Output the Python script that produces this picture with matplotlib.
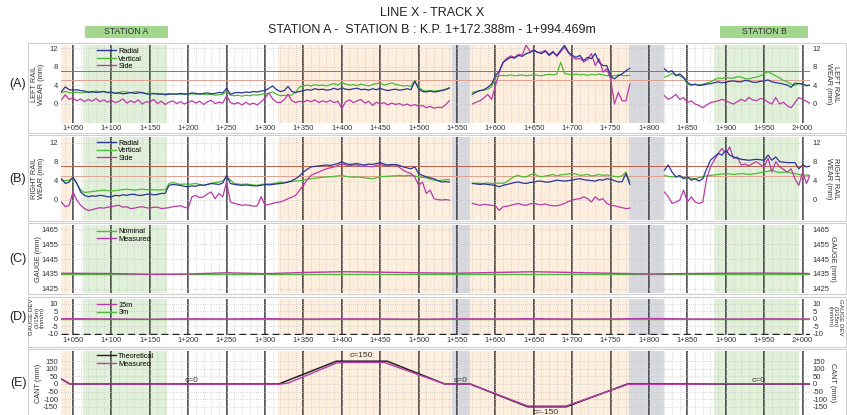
import numpy as np
import matplotlib
matplotlib.use("Agg")
import matplotlib.pyplot as plt
from matplotlib.patches import Rectangle

plt.rcParams['font.family'] = ['Liberation Sans', 'DejaVu Sans']

# ---------------- DATA ----------------
seg1 = np.arange(1035, 1541, 5)
seg2 = np.arange(1570, 1776, 5)
seg3 = np.arange(1820, 2011, 5)

# Panel A - left rail wear
a_radial_1 = [2.6,3.6,3.0,2.9,3.0,2.8,2.7,2.4,2.6,2.4,2.5,2.6,2.4,2.5,2.2,2.3,2.1,2.2,2.4,2.2,
              2.3,2.4,2.1,2.0,2.2,2.0,2.1,1.9,2.0,2.1,2.0,2.2,2.0,2.1,2.3,2.2,2.0,2.2,2.3,2.1,
              2.2,2.4,2.3,3.3,2.0,2.3,2.4,2.3,2.5,2.4,2.6,2.5,2.7,2.8,3.3,3.8,3.0,2.6,2.8,3.7,
              2.6,2.4,2.6,2.8,3.0,2.9,3.2,3.0,3.1,2.9,3.0,3.3,3.0,3.4,3.1,3.0,3.2,3.3,3.0,3.1,
              2.9,3.2,3.0,3.3,3.0,2.8,3.0,3.1,2.9,3.0,3.2,3.0,4.8,3.2,2.6,2.5,2.7,2.5,2.6,2.8,
              3.0,3.4]
a_vertical_1 = [2.4,2.6,2.4,2.3,2.5,2.3,2.4,2.6,2.4,2.7,2.5,2.6,2.3,2.4,2.2,2.4,2.6,2.5,2.3,2.5,
                2.6,2.3,2.2,2.3,2.1,2.2,2.0,2.1,2.2,2.0,2.1,2.0,2.2,2.0,2.1,2.0,2.2,2.0,1.9,2.0,
                1.8,1.9,2.0,2.6,1.8,1.7,1.8,1.6,1.8,1.7,1.9,1.8,2.0,2.1,2.2,2.5,2.0,1.7,1.8,1.7,
                1.9,2.4,3.6,3.8,4.0,3.8,4.1,3.9,4.0,3.8,4.1,4.3,4.0,4.6,4.2,4.0,4.1,3.9,4.2,4.0,
                3.8,4.1,4.3,4.4,4.0,4.2,4.5,4.1,4.0,3.8,3.9,3.7,5.0,3.5,2.9,2.7,2.8,2.7,2.8,2.9,
                3.1,3.3]
a_side_1 = [0.8,1.9,0.9,1.2,0.6,1.0,0.4,0.9,0.5,1.1,0.4,0.8,0.3,0.7,0.2,0.5,1.0,0.1,0.6,0.2,
            0.8,-0.1,0.4,0.3,0.9,0.0,0.5,-0.2,0.3,0.6,0.0,0.4,-0.1,0.3,0.6,0.1,0.5,-0.2,0.4,0.7,
            0.0,0.3,0.1,1.7,0.2,-0.1,0.2,-0.3,0.3,-0.2,0.1,-0.3,0.4,1.2,2.3,1.0,0.3,0.2,0.8,2.0,
            0.6,0.2,0.5,0.3,0.7,0.4,0.8,0.2,0.6,0.3,0.7,0.2,0.5,-1.1,0.4,0.8,0.2,0.6,0.9,0.1,
            0.5,-0.4,0.3,-0.1,0.2,-0.3,0.1,-0.2,0.0,-0.4,-0.1,-0.5,-0.2,-0.6,-0.4,-0.9,-0.6,-1.0,-0.8,-0.9,
            -0.3,0.6]
a_radial_2 = [2.0,2.5,2.8,3.0,3.5,4.2,6.0,7.0,8.9,9.5,10.0,9.8,10.4,10.2,10.8,11.0,11.5,11.1,10.8,11.3,
              10.4,11.1,10.4,11.5,12.6,11.1,10.4,10.0,10.4,9.3,10.0,9.7,10.8,8.9,8.2,8.2,6.0,5.3,6.0,6.4,
              7.1,7.6]
a_vertical_2 = [2.4,2.6,2.8,2.9,3.1,3.6,5.7,6.0,6.1,6.0,6.2,6.0,6.1,6.2,6.0,6.1,6.2,6.1,6.0,6.2,
                6.3,6.2,6.4,8.9,6.5,6.3,6.2,6.4,6.2,6.3,6.1,6.3,6.2,6.4,6.2,6.0,6.1,6.0,6.2,6.1,
                6.0,6.1]
a_side_2 = [-0.1,0.3,0.6,1.2,2.0,0.9,3.8,6.8,8.9,9.8,10.3,10.0,10.6,10.5,12.7,11.2,11.6,11.0,11.1,11.5,
            10.6,11.3,10.2,11.2,12.2,11.0,10.0,9.6,9.8,9.0,9.5,10.8,8.2,9.7,6.8,7.5,5.3,-0.1,2.4,0.6,
            0.6,4.2]
a_radial_3 = [7.5,6.8,7.1,6.0,6.4,5.7,4.6,4.0,4.2,3.9,4.0,4.2,4.3,4.5,4.7,4.5,4.6,4.8,4.9,4.7,
              4.7,5.0,4.9,4.6,4.6,4.8,4.9,5.1,4.7,4.5,4.4,4.2,4.0,3.5,4.4,4.3,4.2,3.9,4.0]
a_vertical_3 = [5.7,6.0,6.5,6.2,6.0,5.5,4.2,4.0,4.1,4.0,4.2,4.4,4.7,5.1,5.5,5.4,5.7,5.5,5.5,5.8,
                5.7,5.4,5.3,5.6,5.7,6.0,6.4,6.9,6.4,6.0,5.5,5.0,4.7,4.2,3.9,4.4,4.2,3.8,4.0]
a_side_3 = [1.7,0.9,1.3,2.0,0.9,1.3,0.2,0.6,-0.1,-0.4,-0.9,-0.3,0.2,0.4,0.6,0.9,0.6,0.2,-0.1,0.4,
            0.9,0.5,1.3,0.8,0.6,1.1,0.9,0.3,-0.1,1.3,-0.1,0.3,-0.5,-0.9,0.2,1.3,0.9,0.5,0.0]

# Panel B - right rail wear
b_radial_1 = [4.4,3.4,3.7,4.8,3.4,1.6,0.9,0.6,0.8,0.7,0.9,0.8,0.6,0.6,0.9,0.8,1.0,0.9,1.1,1.1,
              0.9,0.9,1.1,1.2,1.0,1.1,1.3,1.3,3.0,3.2,3.1,3.0,2.8,2.7,2.9,2.8,3.1,3.0,3.2,3.4,
              3.3,3.2,3.5,5.1,3.4,3.2,3.1,3.0,3.1,3.0,2.9,2.9,3.0,3.2,3.1,3.2,3.3,3.4,3.5,3.7,
              4.0,4.4,5.0,5.8,6.4,6.9,7.0,7.1,7.2,7.3,7.2,7.4,7.6,8.0,7.6,7.4,7.5,7.6,7.4,7.3,
              7.5,7.4,7.6,7.8,7.5,7.3,7.4,7.4,7.2,6.9,6.7,6.5,6.9,5.5,5.1,4.8,4.6,4.4,4.0,3.7,
              3.8,3.7]
b_vertical_1 = [4.1,4.0,4.1,4.6,3.4,2.0,1.5,1.6,1.7,1.8,1.9,2.0,1.9,1.8,1.9,2.0,2.1,2.2,2.1,2.0,
                2.1,2.2,2.1,2.0,2.1,2.0,2.1,2.0,3.4,3.6,3.4,3.2,3.3,3.2,3.3,3.4,3.2,3.0,3.2,3.4,
                3.6,3.7,3.9,4.8,4.1,3.4,3.3,3.2,3.3,3.2,3.1,3.0,3.2,3.3,3.3,3.4,3.5,3.7,3.6,3.7,
                3.8,3.9,4.0,4.1,4.3,4.4,4.5,4.6,4.7,4.8,4.8,4.9,5.0,5.1,4.9,4.8,4.7,4.8,4.7,4.6,
                4.5,4.4,4.6,4.8,4.9,4.9,5.0,5.0,5.1,5.0,5.1,5.1,5.0,4.8,4.7,4.6,4.3,4.1,4.0,4.1,
                4.2,4.2]
b_side_1 = [-0.5,-1.5,-1.2,1.6,-0.1,-1.2,-1.9,-2.3,-2.1,-1.9,-1.7,-1.8,-1.6,-1.5,-1.3,-1.2,-1.6,-1.5,-1.9,-1.8,
            -1.6,-1.5,-1.7,-1.8,-1.6,-1.6,-1.9,-1.8,-1.7,-1.5,-1.4,-1.3,-1.6,-1.8,0.6,0.9,0.4,0.6,1.2,1.6,
            0.2,1.3,0.6,3.7,-0.5,-0.8,-1.0,-1.2,-1.1,-1.2,-1.4,-1.3,0.6,-1.2,-1.0,-0.8,-0.6,-0.5,-0.2,0.2,
            0.5,0.9,2.0,3.0,4.2,5.1,5.5,5.8,6.2,6.5,6.7,6.9,7.2,7.6,7.3,7.1,7.3,7.3,7.0,7.1,
            7.0,6.9,7.2,7.4,7.2,7.1,7.3,7.3,6.8,6.2,5.8,5.5,4.8,3.0,3.7,1.3,2.0,0.2,0.0,-0.1,
            0.0,-0.1]
b_radial_2 = [3.4,3.3,3.2,3.3,3.2,3.1,3.0,2.7,3.0,3.2,3.4,3.6,3.7,3.5,3.4,3.6,3.7,3.9,3.9,3.7,
              3.7,3.9,4.1,4.0,3.9,4.0,4.1,4.3,4.4,4.2,4.1,4.0,3.9,4.2,4.1,4.4,4.3,4.0,3.7,3.8,
              5.5,3.2]
b_vertical_2 = [3.4,3.5,3.4,3.4,3.5,3.4,3.4,3.5,3.4,3.8,4.4,4.9,5.1,4.8,4.8,5.2,5.5,5.0,4.8,5.0,
                5.1,5.3,5.0,5.2,5.3,5.4,5.5,5.4,5.1,5.2,5.3,5.0,5.1,5.3,5.1,5.2,5.0,4.9,4.8,5.0,
                5.8,3.7]
b_side_2 = [-0.8,-1.0,-1.2,-1.0,-1.1,-1.2,-1.3,-2.3,-1.5,-1.4,-1.2,-1.0,-0.8,-1.1,-1.2,-0.9,-0.8,-1.0,-1.1,-0.9,
            -1.2,-1.3,-1.3,-1.1,-0.8,-0.4,-0.1,0.1,0.2,0.6,0.2,-0.5,0.6,-0.1,0.2,-0.8,-1.2,-1.3,-1.5,-1.7,
            -1.9,-1.8]
b_radial_3 = [6.2,7.3,5.8,4.8,5.1,4.4,4.8,4.1,4.4,3.9,4.4,6.5,8.3,9.0,9.7,9.4,10.4,9.4,9.0,8.7,
              8.5,8.4,8.3,8.4,8.5,8.4,8.3,9.4,8.3,9.0,8.0,7.9,7.8,7.8,7.8,6.5,7.3,6.9,7.1]
b_vertical_3 = [5.1,4.9,4.8,4.8,4.8,4.7,4.6,4.5,4.4,4.6,4.8,5.0,5.1,5.2,5.3,5.4,5.5,5.4,5.3,5.4,
                5.5,5.4,5.3,5.4,5.5,5.7,5.8,6.0,6.2,5.9,5.7,5.8,5.8,5.6,5.5,5.3,5.1,5.2,5.0]
b_side_3 = [1.6,0.6,-0.8,-0.5,-0.1,2.0,-0.5,0.6,-0.5,-0.8,-0.5,4.4,6.9,8.3,9.7,10.8,9.7,11.1,8.7,9.0,
            7.3,7.5,7.1,7.6,8.0,7.4,6.9,8.7,5.8,8.0,6.9,6.4,5.8,6.5,4.4,3.0,5.8,3.4,5.3]

# Panel C - gauge
gauge_ch = [1034, 1100, 1150, 1200, 1250, 1300, 1350, 1400, 1450, 1500, 1550, 1600, 1650,
            1700, 1750, 1800, 1850, 1900, 1950, 2000, 2010]
gauge_meas = [1435.5, 1435.3, 1434.8, 1435.0, 1435.8, 1435.2, 1436.0, 1436.5, 1436.2, 1435.8,
              1435.5, 1436.0, 1436.5, 1436.0, 1435.5, 1435.0, 1435.3, 1435.5, 1435.6, 1435.4, 1435.3]
gauge_nominal = 1435

# Panel D - gauge deviation
dev_15m = [0.2, 0.0, -0.2, 0.1, 0.0, 0.2, -0.1, 0.1, 0.0, -0.2, 0.1, 0.0, 0.2, -0.1, 0.0, 0.3,
           0.0, -0.1, 0.1, 0.0, 0.0]
dev_3m = [0.0] * len(gauge_ch)

# Panel E - cant
cant_theo_ch = [1034, 1046, 1318, 1393, 1459, 1534, 1567, 1642, 1692, 1772, 2010]
cant_theo = [35, 0, 0, 150, 150, 0, 0, -150, -150, 0, 0]
cant_meas_ch = [1034, 1046, 1318, 1330, 1393, 1402, 1455, 1534, 1567, 1642, 1692, 1772, 1850, 1900, 2010]
cant_meas = [33, 0, -2, 6, 138, 142, 142, 0, 0, -145, -145, -3, -2, 2, 0]
cant_labels = [(1205, 25, "c=0"), (1426, 190, "c=150"), (1554, 25, "c=0"),
               (1665, -188, "c=-150"), (1942, 25, "c=0")]

# Backgrounds
orange_bands = [(1034, 1048), (1317, 1543), (1567, 1774)]
green_bands = [(1063, 1172), (1885, 1995)]
gray_bands = [(1543, 1567), (1774, 1820)]
major_ticks = list(range(1050, 2001, 50))
tick_labels = ["%d+%03d" % (c // 1000, c % 1000) for c in major_ticks]

C_BLUE = '#2a3596'
C_GREEN = '#4cbb35'
C_MAG = '#b93aa8'
C_RED = '#c0604a'

# ---------------- FIGURE ----------------
W, H = 847, 415
fig = plt.figure(figsize=(W / 100, H / 100), dpi=100)
fig.patch.set_facecolor('white')

XL, XR = 61, 810
X0, X1 = 1034.4, 2009.6


def fx(px):
    return px / W


def fy(py):
    return 1 - py / H


def add_box(top, bottom):
    fig.patches.append(Rectangle((fx(28), fy(bottom)), fx(846) - fx(28), fy(top) - fy(bottom),
                                 transform=fig.transFigure, facecolor='none',
                                 edgecolor='#cfcfcf', lw=0.8, zorder=-5))


def make_ax(top, bottom, ylim, yticks, label, ylab, show_x, ylab_fs=5.3, ylx=(38, 832)):
    ax = fig.add_axes([fx(XL), fy(bottom), fx(XR) - fx(XL), fy(top) - fy(bottom)])
    ax.set_facecolor('none')
    ax.set_xlim(X0, X1)
    ax.set_ylim(*ylim)
    for a, b in orange_bands:
        ax.axvspan(a, b, color='#fdeedd', lw=0, zorder=0)
    for a, b in green_bands:
        ax.axvspan(a, b, color='#e1f0d8', lw=0, zorder=0)
    for a, b in gray_bands:
        ax.axvspan(a, b, color='#d8d9de', lw=0, zorder=0.5)
    ax.set_xticks(major_ticks)
    ax.set_xticks(np.arange(1040, 2010, 10), minor=True)
    ax.set_yticks(yticks)
    ax.grid(which='both', axis='x', color='#c8c8c8', ls=':', lw=0.6, zorder=0.6)
    ax.grid(which='major', axis='y', color='#c8c8c8', ls=':', lw=0.6, zorder=0.6)
    for c in major_ticks:
        ax.axvline(c, color='#2a2a2a', lw=1.1, zorder=1)
    for s in ax.spines.values():
        s.set_visible(False)
    ax.tick_params(axis='both', which='both', length=0, labelsize=5.5, colors='#333333', pad=1.5)
    ax.tick_params(axis='y', labelleft=True, labelright=True, pad=2)
    if show_x:
        ax.set_xticklabels(tick_labels)
    else:
        ax.set_xticklabels([])
    ax.set_yticklabels([str(v) for v in yticks])
    mid = (top + bottom) / 2
    fig.text(fx(18), fy(mid), label, ha='center', va='center', fontsize=9, color='#222222')
    fig.text(fx(ylx[0]), fy(mid), ylab, ha='center', va='center', rotation=90, fontsize=ylab_fs,
             color='#333333', linespacing=1.05)
    fig.text(fx(ylx[1]), fy(mid), ylab, ha='center', va='center', rotation=-90, fontsize=ylab_fs,
             color='#333333', linespacing=1.05)
    return ax


# Boxes
add_box(43, 133)
add_box(135, 221)
add_box(223, 294)
add_box(297, 347)
add_box(349, 420)

# Title
fig.text(fx(432), fy(13), "LINE X - TRACK X", ha='center', va='center', fontsize=9.0, color='#222222')
fig.text(fx(432), fy(30), "STATION A -  STATION B : K.P. 1+172.388m - 1+994.469m", ha='center',
         va='center', fontsize=9.0, color='#222222')
for (x0, x1, t) in [(85, 168, "STATION A"), (720, 808, "STATION B")]:
    fig.patches.append(Rectangle((fx(x0), fy(38)), fx(x1) - fx(x0), fy(26) - fy(38),
                                 transform=fig.transFigure, facecolor='#a3d78f', edgecolor='none'))
    fig.text(fx((x0 + x1) / 2), fy(32), t, ha='center', va='center', fontsize=6.3, color='#333333')

segs = [seg1, seg2, seg3]


def wear_panel(ax, rad, ver, side):
    for s, r, v, sd in zip(segs, rad, ver, side):
        ax.plot(s, v, color=C_GREEN, lw=0.9, zorder=3)
        ax.plot(s, r, color=C_BLUE, lw=0.9, zorder=4)
        ax.plot(s, sd, color=C_MAG, lw=0.9, zorder=3.5)
    ax.axhline(7, color=C_RED, lw=0.7, zorder=2)
    ax.axhline(5, color='#e0a090', lw=0.7, zorder=2)
    ax.plot([], [], color=C_BLUE, lw=1.0, label='Radial')
    ax.plot([], [], color=C_GREEN, lw=1.0, label='Vertical')
    ax.plot([], [], color=C_MAG, lw=1.0, label='Side')


LEG = dict(loc='upper left', frameon=False, fontsize=5.3, handlelength=2.6, labelspacing=0.05,
           borderpad=0.1, handletextpad=0.3)

# (A)
axA = make_ax(45, 123, (-4.2, 12.65), [0, 4, 8, 12], "(A)", "LEFT RAIL\nWEAR (mm)", True)
wear_panel(axA, [a_radial_1, a_radial_2, a_radial_3], [a_vertical_1, a_vertical_2, a_vertical_3],
           [a_side_1, a_side_2, a_side_3])
h, l = axA.get_legend_handles_labels()
axA.legend(h[-3:], l[-3:], bbox_to_anchor=(0.042, 1.02), **LEG)

# (B)
axB = make_ax(137, 220, (-4.3, 13.2), [0, 4, 8, 12], "(B)", "RIGHT RAIL\nWEAR (mm)", False)
wear_panel(axB, [b_radial_1, b_radial_2, b_radial_3], [b_vertical_1, b_vertical_2, b_vertical_3],
           [b_side_1, b_side_2, b_side_3])
h, l = axB.get_legend_handles_labels()
axB.legend(h[-3:], l[-3:], bbox_to_anchor=(0.042, 1.02), **LEG)

# (C)
axC = make_ax(225, 293, (1422.3, 1467.7), [1425, 1435, 1445, 1455, 1465], "(C)", "GAUGE (mm)", False)
axC.axhline(gauge_nominal, color=C_GREEN, lw=1.0, zorder=3)
axC.plot(gauge_ch, gauge_meas, color=C_MAG, lw=1.0, zorder=4)
axC.plot([], [], color=C_GREEN, lw=1.0, label='Nominal')
axC.plot([], [], color=C_MAG, lw=1.0, label='Measured')
axC.legend(bbox_to_anchor=(0.042, 1.02), **LEG)

# (D)
axD = make_ax(299, 335, (-10.7, 13.3), [-10, -5, 0, 5, 10], "(D)", "GAUGE DEV\n(3/15m)\n(mm/m)", True,
              ylab_fs=4.4, ylx=(37, 835))
axD.plot(gauge_ch, dev_3m, color=C_GREEN, lw=1.0, zorder=3)
axD.plot(gauge_ch, dev_15m, color=C_MAG, lw=1.0, zorder=4)
axD.axhline(-10, color='#222222', lw=1.0, ls=(0, (5, 3)), zorder=2)
axD.plot([], [], color=C_MAG, lw=1.0, label='15m')
axD.plot([], [], color=C_GREEN, lw=1.0, label='3m')
axD.legend(bbox_to_anchor=(0.042, 1.05), **LEG)

# (E)
axE = make_ax(351, 415, (-204, 217), [-150, -100, -50, 0, 50, 100, 150], "(E)", "CANT (mm)", False)
axE.plot(cant_theo_ch, cant_theo, color='#222222', lw=1.1, zorder=3)
axE.plot(cant_meas_ch, cant_meas, color=C_MAG, lw=1.0, zorder=4)
for cx, cy, t in cant_labels:
    axE.text(cx, cy, t, ha='center', va='center', fontsize=6, color='#333333', zorder=5)
axE.plot([], [], color='#222222', lw=1.0, label='Theoretical')
axE.plot([], [], color=C_MAG, lw=1.0, label='Measured')
axE.legend(bbox_to_anchor=(0.042, 1.04), **LEG)

fig.savefig("out.png", dpi=100, facecolor='white')
